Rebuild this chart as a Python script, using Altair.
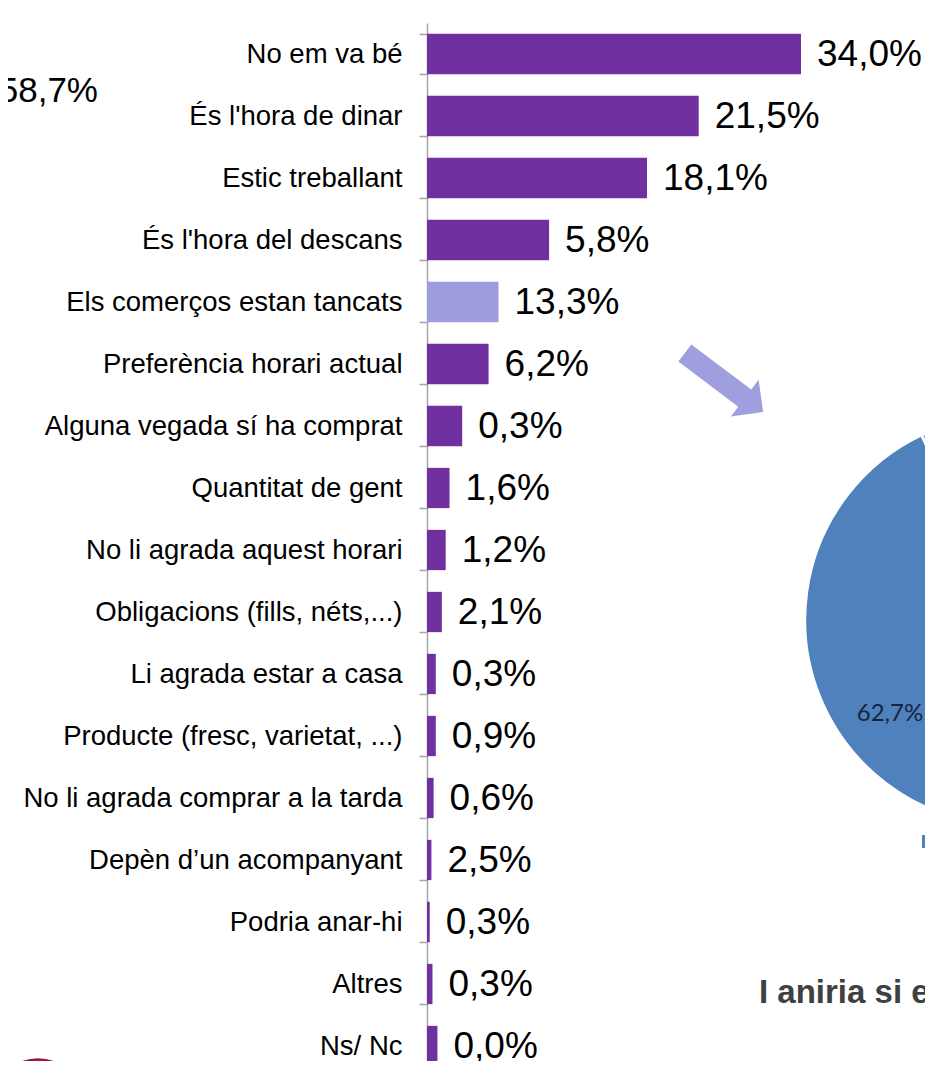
import altair as alt
import pandas as pd

# ---- bar chart data ----
categories = [
    "No em va bé",
    "És l'hora de dinar",
    "Estic treballant",
    "És l'hora del descans",
    "Els comerços estan tancats",
    "Preferència horari actual",
    "Alguna vegada sí ha comprat",
    "Quantitat de gent",
    "No li agrada aquest horari",
    "Obligacions (fills, néts,...)",
    "Li agrada estar a casa",
    "Producte (fresc, varietat, ...)",
    "No li agrada comprar a la tarda",
    "Depèn d\u2019un acompanyant",
    "Podria anar-hi",
    "Altres",
    "Ns/ Nc",
]
# bar lengths as drawn in the picture (percent units)
bar_values = [34.0, 24.7, 20.0, 11.1, 6.5, 5.6, 3.2, 2.05, 1.7, 1.35,
              0.8, 0.8, 0.6, 0.4, 0.25, 0.5, 0.95]
# the printed labels next to the bars
bar_labels = ["34,0%", "21,5%", "18,1%", "5,8%", "13,3%", "6,2%", "0,3%",
              "1,6%", "1,2%", "2,1%", "0,3%", "0,9%", "0,6%", "2,5%",
              "0,3%", "0,3%", "0,0%"]
highlight = "Els comerços estan tancats"

# ---- other slide elements ----
side_value = ["58,7%"]
pie_slices = ["62,7%", "resta"]
pie_values = [62.7, 37.3]
pie_text = ["62,7%"]
pie_title = ["I aniria si estiguessin oberts?"]

bars_df = pd.DataFrame({"category": categories, "bar": bar_values, "label": bar_labels})
pie_df = pd.DataFrame({"slice": pie_slices, "value": pie_values, "idx": list(range(len(pie_slices)))})
one = pd.DataFrame({"k": [0]})

FONT = "Liberation Sans"
DARK = "#7030A0"
LIGHT = "#9E9CDC"

PLOT_W = 498
PLOT_H = 1038

y_enc = alt.Y(
    "category:N",
    sort=categories,
    scale=alt.Scale(range=[0, 1054], paddingInner=0.35, paddingOuter=0.175),
    axis=alt.Axis(
        title=None,
        labelFont=FONT,
        labelFontSize=27.5,
        labelColor="#000000",
        labelLimit=600,
        labelPadding=17,
        tickBand="extent",
        tickSize=8,
        tickColor="#A6A6A6",
        tickWidth=1.5,
        domainColor="#A6A6A6",
        domainWidth=1.5,
        grid=False,
    ),
)
x_enc = alt.X("bar:Q", scale=alt.Scale(domain=[0, PLOT_W / 11.0], nice=False, zero=True), axis=None)

bars = alt.Chart(bars_df).mark_bar().encode(
    y=y_enc,
    x=x_enc,
    color=alt.condition(alt.datum.category == highlight, alt.value(LIGHT), alt.value(DARK)),
)

values = alt.Chart(bars_df).mark_text(
    align="left", baseline="middle", dx=16, dy=1, font=FONT, fontSize=37, color="#000000"
).encode(y=alt.Y("category:N", sort=categories), x="bar:Q", text="label:N")

left_val = alt.Chart(pd.DataFrame({"t": side_value})).mark_text(
    align="right", baseline="alphabetic", font=FONT, fontSize=35, color="#000000"
).encode(x=alt.value(-329), y=alt.value(79), text="t:N")

arrow_path = "M -1 -0.22 L 0.53 -0.22 L 0.53 -0.47 L 1 0 L 0.53 0.47 L 0.53 0.22 L -1 0.22 Z"
arrow = alt.Chart(one).mark_point(
    shape=arrow_path, filled=True, fill="#9F9EDE", strokeWidth=0, opacity=1, size=9604, angle=37
).encode(x=alt.value(297), y=alt.value(359.5))

pie = alt.Chart(pie_df).mark_arc(outerRadius=205, stroke="white", strokeWidth=2.5).encode(
    theta=alt.Theta("value:Q", stack=True, scale=alt.Scale(range=[1.897, 1.897 + 6.2832])),
    order=alt.Order("idx:Q"),
    color=alt.Color("slice:N", scale=alt.Scale(domain=pie_slices, range=["#4F81BD", "#AAB6D6"]), legend=None),
    x=alt.value(583),
    y=alt.value(597),
)

pie_lbl = alt.Chart(pd.DataFrame({"t": pie_text})).mark_text(
    align="center", baseline="middle", font="Lato", fontSize=24, color="#17243F"
).encode(x=alt.value(463), y=alt.value(691), text="t:N")

legend_sq = alt.Chart(one).mark_rect(color="#4F81BD").encode(
    x=alt.value(495), x2=alt.value(512), y=alt.value(812), y2=alt.value(825)
)

title_txt = alt.Chart(pd.DataFrame({"t": pie_title})).mark_text(
    align="left", baseline="alphabetic", font=FONT, fontSize=33, fontWeight="bold", color="#404040"
).encode(x=alt.value(332), y=alt.value(980), text="t:N")

circle = alt.Chart(one).mark_circle(size=9852, color="#9B1B3D", opacity=1).encode(
    x=alt.value(-389), y=alt.value(1085)
)

chart = alt.layer(
    pie, pie_lbl, legend_sq, title_txt, arrow, circle, left_val, bars, values
).properties(
    width=PLOT_W,
    height=PLOT_H,
    autosize=alt.AutoSizeParams(type="none"),
    padding={"left": 419, "top": 15, "right": 0, "bottom": 0},
    background="white",
).configure_view(stroke=None)

chart.save("out.html", embed_options={"renderer": "svg", "actions": False})
